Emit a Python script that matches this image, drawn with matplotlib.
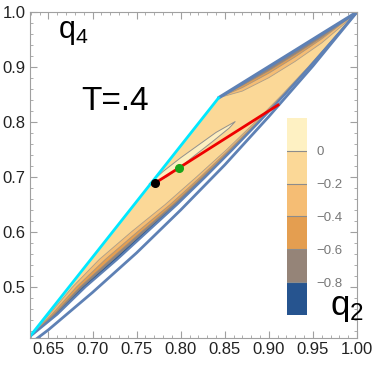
"""
T=.4 区域图：q4 对 q2 的等值带，附 q2 色标
"""

import numpy as np
import matplotlib
matplotlib.use('Agg')
import matplotlib.pyplot as plt
from matplotlib.colors import ListedColormap, BoundaryNorm
from matplotlib.colorbar import ColorbarBase

# ================= 样式配置 =================
font_family = ['Liberation Sans', 'DejaVu Sans']
tick_fontsize = 12
frame_color = '#A0A0A0'
edge_blue = '#5E81B5'
cyan_color = '#00E8FF'
contour_gray = '#8C8C8C'

plt.rcParams.update({
    'font.family': font_family,
    'mathtext.fontset': 'custom',
    'mathtext.rm': 'Liberation Sans',
    'xtick.direction': 'in',
    'ytick.direction': 'in',
    'xtick.top': True,
    'ytick.right': True,
})

# ================= 数据 =================
# 色带：q2 等值层与颜色
level_bounds = [-1.0, -0.8, -0.6, -0.4, -0.2, 0.0, 0.2]
level_colors = ['#26548F', '#958478', '#E49E50', '#F5BD74', '#FBD897', '#FEF1C3']
cbar_ticks = [-0.8, -0.6, -0.4, -0.2, 0.0]
cbar_labels = ['\u22120.8', '\u22120.6', '\u22120.4', '\u22120.2', '0']

# 区域顶点
corner_low = (0.628, 0.408)
corner_top = (0.843, 0.844)
corner_end = (1.0, 1.0)

# 下边界及下侧等值线（按 y 取样）
low_y = [0.408, 0.45, 0.50, 0.55, 0.60, 0.65, 0.70, 0.75, 0.80, 0.85, 0.90, 0.95, 1.0]
low_edge_x = [0.628, 0.660, 0.692, 0.728, 0.762, 0.796, 0.828, 0.859, 0.889, 0.918, 0.946, 0.973, 1.0]
low_b1_x = [0.628, 0.6577, 0.6886, 0.7240, 0.7586, 0.7937, 0.8266, 0.8581, 0.8885, 0.9178, 0.946, 0.973, 1.0]
low_b2_x = [0.628, 0.6560, 0.6858, 0.7201, 0.7552, 0.7915, 0.8246, 0.8567, 0.8876, 0.9172, 0.9457, 0.9729, 1.0]
low_b3_x = [0.628, 0.6538, 0.6818, 0.7144, 0.7507, 0.7881, 0.8223, 0.8550, 0.8865, 0.9164, 0.9452, 0.9727, 1.0]
low_b4_x = [0.628, 0.6509, 0.6773, 0.7076, 0.7439, 0.7824, 0.8178, 0.8522, 0.8845, 0.9152, 0.9444, 0.9723, 1.0]

# 上边界及上侧等值线（按 x 取样）
up_x = [0.843, 0.87, 0.90, 0.93, 0.96, 0.985, 1.0]
up_edge_y = [0.844, 0.8708, 0.9006, 0.9304, 0.9603, 0.9851, 1.0]
up_b2_y = [0.844, 0.8663, 0.8933, 0.9231, 0.9539, 0.9824, 1.0]
up_b3_y = [0.844, 0.8626, 0.8888, 0.9186, 0.9512, 0.9815, 1.0]
up_b4_y = [0.844, 0.8563, 0.8806, 0.9104, 0.9439, 0.9778, 1.0]

# q2>0 的细长区域
sliver_x = [0.764, 0.78, 0.80, 0.82, 0.84, 0.862, 0.855, 0.835, 0.815, 0.798, 0.785, 0.772]
sliver_y = [0.687, 0.710, 0.735, 0.758, 0.781, 0.801, 0.789, 0.763, 0.738, 0.716, 0.701, 0.690]

# 外侧曲线
outer_x = [0.636, 0.65, 0.70, 0.75, 0.80, 0.85, 0.90, 0.95, 1.0]
outer_y = [0.405, 0.422, 0.490, 0.562, 0.640, 0.722, 0.810, 0.902, 1.0]

# 红线与点
red_x = [0.768, 0.9105]
red_y = [0.686, 0.831]
black_pt = (0.771, 0.689)
green_pt = (0.798, 0.716)

# 坐标轴
x_major = [0.65, 0.70, 0.75, 0.80, 0.85, 0.90, 0.95, 1.00]
x_labels = ['0.65', '0.70', '0.75', '0.80', '0.85', '0.90', '0.95', '1.00']
y_major = [0.5, 0.6, 0.7, 0.8, 0.9, 1.0]
y_labels = ['0.5', '0.6', '0.7', '0.8', '0.9', '1.0']
x_lim = (0.629, 1.0)
y_lim = (0.407, 1.0)


def fill_low_band(ax, bx, color):
    xs = list(bx) + low_edge_x[::-1]
    ys = low_y + low_y[::-1]
    ax.fill(xs, ys, color=color, lw=0)
    ax.plot(bx, low_y, color=contour_gray, lw=0.6, alpha=0.7)


def fill_up_band(ax, by, color):
    xs = up_x + up_x[::-1]
    ys = list(by) + up_edge_y[::-1]
    ax.fill(xs, ys, color=color, lw=0)
    ax.plot(up_x, by, color=contour_gray, lw=0.6, alpha=0.7)


def main():
    fig = plt.figure(figsize=(3.8, 3.67), dpi=100)
    ax = fig.add_axes([0.0789, 0.079, 0.8605, 0.888])

    # 整个区域（-0.2~0 色）
    wedge_x = [corner_low[0], corner_top[0]] + up_x[1:] + low_edge_x[::-1]
    wedge_y = [corner_low[1], corner_top[1]] + up_edge_y[1:] + low_y[::-1]
    ax.fill(wedge_x, wedge_y, color=level_colors[4], lw=0)

    # 下侧色带
    fill_low_band(ax, low_b4_x, level_colors[3])
    fill_low_band(ax, low_b3_x, level_colors[2])
    fill_low_band(ax, low_b2_x, level_colors[1])
    fill_low_band(ax, low_b1_x, level_colors[0])

    # 上侧色带
    fill_up_band(ax, up_b4_y, level_colors[3])
    fill_up_band(ax, up_b3_y, level_colors[2])
    fill_up_band(ax, up_b2_y, level_colors[1])

    # q2>0 区域
    ax.fill(sliver_x, sliver_y, facecolor=level_colors[5],
            edgecolor=contour_gray, lw=0.7, alpha=0.95)

    # 边界
    ax.plot(low_edge_x, low_y, color=edge_blue, lw=1.6)
    ax.plot(up_x, up_edge_y, color=edge_blue, lw=2.4, solid_capstyle='round')
    ax.plot([corner_low[0], corner_top[0]], [corner_low[1], corner_top[1]],
            color=cyan_color, lw=2.0)
    ax.plot(outer_x, outer_y, color=edge_blue, lw=2.0)

    # 红线与点
    ax.plot(red_x, red_y, color='#EE0000', lw=2.0)
    ax.plot(*black_pt, 'o', color='black', ms=5.5)
    ax.plot(*green_pt, 'o', color='#1AA31A', ms=5.5)

    # 文字
    ax.text(0.661, 0.953, r'$\mathregular{q_4}$', fontsize=22, color='black')
    ax.text(0.726, 0.838, 'T=.4', fontsize=24, ha='center', va='center')
    ax.text(0.9695, 0.449, r'$\mathregular{q_2}$', fontsize=25, color='black')

    # 坐标轴
    ax.set_xlim(*x_lim)
    ax.set_ylim(*y_lim)
    ax.set_xticks(x_major)
    ax.set_xticklabels(x_labels)
    ax.set_yticks(y_major)
    ax.set_yticklabels(y_labels)
    ax.set_xticks(np.arange(0.63, 1.001, 0.01), minor=True)
    ax.set_yticks(np.arange(0.42, 1.001, 0.02), minor=True)
    ax.tick_params(which='major', length=5, width=0.8, color=frame_color,
                   labelsize=tick_fontsize, labelcolor='#222222', pad=3)
    ax.tick_params(which='minor', length=2.5, width=0.6, color=frame_color)
    for sp in ax.spines.values():
        sp.set_color(frame_color)
        sp.set_linewidth(0.8)

    # 色标
    cax = fig.add_axes([0.755, 0.1417, 0.0526, 0.537])
    cmap = ListedColormap(level_colors)
    norm = BoundaryNorm(level_bounds, cmap.N)
    cb = ColorbarBase(cax, cmap=cmap, norm=norm, boundaries=level_bounds,
                      ticks=cbar_ticks)
    cb.outline.set_visible(False)
    cax.minorticks_off()
    for t in cbar_ticks:
        cax.axhline(t, color=contour_gray, lw=0.8)
    cb.set_ticklabels(cbar_labels)
    cax.tick_params(which='both', length=0, labelsize=9.5,
                    labelcolor='#777777', pad=7)
    for sp in cax.spines.values():
        sp.set_visible(False)

    fig.savefig('out.png', dpi=100, facecolor='white')
    plt.close(fig)


if __name__ == "__main__":
    main()
